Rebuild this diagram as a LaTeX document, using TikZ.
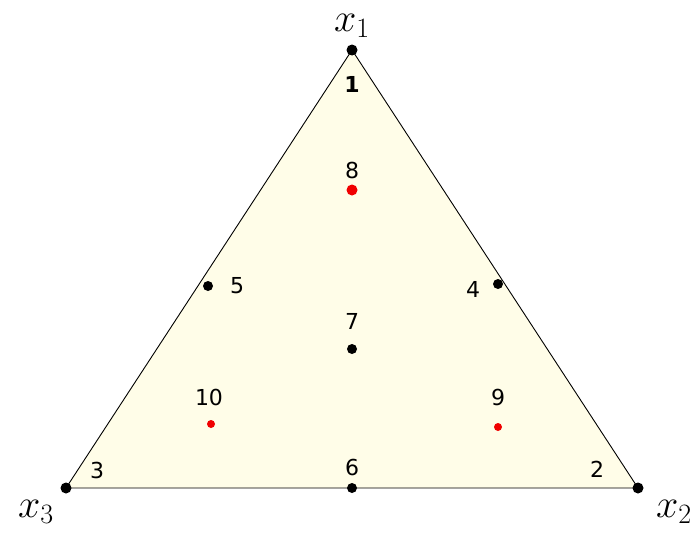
\RequirePackage{fix-cm}
\documentclass[tikz,border=0pt]{standalone}
\usepackage{fontspec}
\newfontfamily\numfont{DejaVu Sans}
\definecolor{fillc}{RGB}{255,253,232}
\definecolor{redc}{RGB}{240,0,0}
\newcommand{\vsub}[1]{\mbox{\fontsize{28}{30}\selectfont #1}}
\begin{document}
\begin{tikzpicture}[x=1pt,y=-1pt,
  bdot/.style={circle,fill=black,inner sep=0pt,minimum size=11pt},
  rdot/.style={circle,fill=redc,inner sep=0pt,minimum size=11pt},
  rsdot/.style={circle,fill=redc,inner sep=0pt,minimum size=8pt},
  num/.style={font=\numfont\fontsize{22}{24}\selectfont,inner sep=0pt},
  vlab/.style={font=\fontsize{40}{42}\selectfont,inner sep=0pt}]
\useasboundingbox (0,0) rectangle (696,533);
\coordinate (A) at (352,50);
\coordinate (B) at (638,488);
\coordinate (C) at (66,488);
\fill[fillc] (A) -- (B) -- (C) -- cycle;
\draw[line width=0.9pt] (A) -- (B) -- (C) -- cycle;
\node[bdot] (p1) at (A) {};
\node[bdot] (p2) at (B) {};
\node[bdot] (p3) at (C) {};
\node[bdot,minimum size=10pt] (p5) at (208,286) {};
\node[bdot,minimum size=10pt] (p4) at (498,284) {};
\node[bdot,minimum size=10pt] (p7) at (352,349) {};
\node[bdot,minimum size=10pt] (p6) at (352,488) {};
\node[rdot] (p8) at (352,190) {};
\node[rsdot] (p10) at (211,424) {};
\node[rsdot] (p9) at (498,427) {};
\node[num] (l1) at (352,84) {\textbf{1}};
\node[num] (l8) at (352,170) {8};
\node[num] (l5) at (237,286) {5};
\node[num] (l4) at (473,289) {4};
\node[num] (l7) at (352,321) {7};
\node[num] (l10) at (209,397) {10};
\node[num] (l9) at (498,397) {9};
\node[num] (l6) at (352,467) {6};
\node[num] (l3) at (97,470) {3};
\node[num] (l2) at (597,469) {2};
\node[vlab] (x1) at (352,26) {$x_{\vsub{1}}$};
\node[vlab] (x3) at (36,512) {$x_{\vsub{3}}$};
\node[vlab] (x2) at (674,512) {$x_{\vsub{2}}$};
\end{tikzpicture}
\end{document}
